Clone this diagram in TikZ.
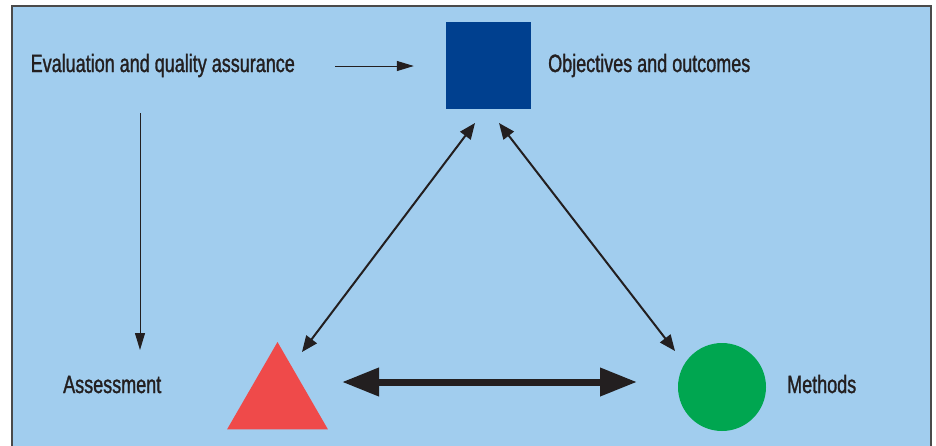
\documentclass[tikz,border=0pt]{standalone}
\usepackage{fontspec}
\setmainfont{Liberation Sans}[FakeStretch=0.72,FakeBold=1.2]
\usetikzlibrary{arrows.meta,shapes.geometric}
\definecolor{bgblue}{HTML}{A1CDEE}
\definecolor{sqblue}{HTML}{00408F}
\definecolor{trired}{HTML}{EF4A4A}
\definecolor{circgreen}{HTML}{00A650}
\definecolor{ink}{HTML}{231F20}
\definecolor{framegray}{HTML}{4A4A4A}
\begin{document}
\begin{tikzpicture}[x=1pt,y=-1pt,
  lbl/.style={anchor=base west,inner sep=0pt,text=ink,font=\fontsize{25}{28}\selectfont},
  thinarrow/.style={draw=ink,line width=1pt,-{Triangle[length=17pt,width=10pt]}},
  diagarrow/.style={draw=ink,line width=2pt,{Triangle[length=16pt,width=13pt]}-{Triangle[length=16pt,width=13pt]}},
  thickarrow/.style={draw=ink,line width=7pt,{Triangle[length=37pt,width=27pt]}-{Triangle[length=37pt,width=27pt]}}]
\useasboundingbox (0,0) rectangle (936,445);
\fill[bgblue] (12,6) rectangle (931,452);
\draw[framegray,line width=1.5pt] (12,452) -- (12,6) -- (931,6) -- (931,452);
% shapes
\node[draw=none,fill=sqblue,minimum width=85pt,minimum height=87pt,inner sep=0pt] (sq) at (488.5,65.5) {};
\node[regular polygon,regular polygon sides=3,fill=trired,minimum size=116.6pt,inner sep=0pt] (tri) at (277.5,400.3) {};
\node[circle,fill=circgreen,minimum size=88pt,inner sep=0pt] (circ) at (722,387) {};
% labels
\node[lbl] (evl) at (30.5,72) {Evaluation and quality assurance};
\node[lbl] (obj) at (548,72) {Objectives and outcomes};
\node[lbl] (ass) at (63,393) {Assessment};
\node[lbl] (met) at (787,393) {Methods};
% connector end points
\coordinate (v1) at (140,113);
\coordinate (v2) at (140,350);
\coordinate (dA1) at (475,123);
\coordinate (dA2) at (302,352);
\coordinate (dB1) at (499,123);
\coordinate (dB2) at (675,351);
\coordinate (hA) at (342,382);
\coordinate (hB) at (637,382);
% connectors
\draw[thinarrow] (335,66) -- ([xshift=-32pt]sq.west |- 0,66);
\draw[thinarrow] (v1) -- (v2);
\draw[diagarrow] (dA1) -- (dA2);
\draw[diagarrow] (dB1) -- (dB2);
\draw[thickarrow] (hA) -- (hB);
\end{tikzpicture}
\end{document}
